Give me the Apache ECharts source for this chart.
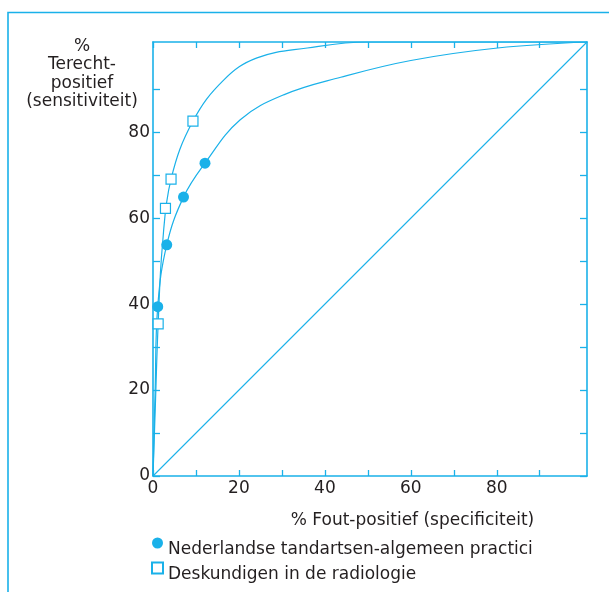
<!DOCTYPE html>
<html>
<head>
<meta charset="utf-8">
<script src="https://cdn.jsdelivr.net/npm/echarts@6/dist/echarts.min.js"></script>
<style>
  html, body { margin: 0; padding: 0; background: #fff; }
  #chart { width: 609px; height: 592px; }
</style>
</head>
<body>
<div id="chart"></div>
<script>
// ---- data ----
const xTickValues = [0, 10, 20, 30, 40, 50, 60, 70, 80, 90];
const xLabelValues = [0, 20, 40, 60, 80];
const yTickValues = [0, 10, 20, 30, 40, 50, 60, 70, 80, 90];
const yLabelValues = [0, 20, 40, 60, 80];

const seriesNames = ['Nederlandse tandartsen-algemeen practici', 'Deskundigen in de radiologie'];

// measured points
const dentistPoints = [[1.1, 39.4], [3.2, 53.8], [7.1, 64.9], [12.1, 72.8]];
const expertPoints = [[1.2, 35.4], [2.9, 62.3], [4.2, 69.1], [9.3, 82.6]];

// fitted ROC curves
const dentistCurve = [[0, 0], [0.5, 20], [1.1, 39.4], [3.2, 53.8], [7.1, 64.9],
  [12.1, 72.8], [20.3, 82.9], [30.4, 88.7], [43.7, 92.8], [60, 96.7], [80.2, 99.6], [101, 101]];
const expertCurve = [[0, 0], [0.6, 18], [1.2, 35.4], [2.2, 53.8], [4.2, 69.1],
  [9.3, 82.6], [16.5, 92.2], [24.2, 97.3], [35.9, 99.6], [50, 101], [101, 101]];
const chanceLine = [[0, 0], [101, 101]];

const axisMax = 101;

// ---- styles ----
const C = '#1ab1e9';
const TXT = '#231f20';
const FONT = "'DejaVu Sans', sans-serif";
const FS = 17;

const chart = echarts.init(document.getElementById('chart'), null, { renderer: 'canvas' });

function baseAxis(extra) {
  return Object.assign({
    type: 'value', min: 0, max: axisMax,
    axisLine: { show: true, onZero: false, lineStyle: { color: C, width: 1.6 } },
    splitLine: { show: false }
  }, extra);
}

const tickStyle = { color: C, width: 1.3 };

const option = {
  animation: false,
  backgroundColor: '#fff',
  textStyle: { fontFamily: FONT },
  grid: { left: 153, right: 22, top: 42, bottom: 116, containLabel: false },
  xAxis: [
    baseAxis({
      position: 'bottom',
      name: '% Fout-positief (specificiteit)',
      nameLocation: 'middle',
      nameGap: 36,
      nameTextStyle: { color: TXT, fontSize: FS, fontFamily: FONT, padding: [0, 0, 0, 85] },
      axisTick: { show: true, inside: true, length: 6, lineStyle: tickStyle, customValues: xTickValues },
      axisLabel: { show: true, color: TXT, fontSize: FS, fontFamily: FONT, margin: 4, customValues: xLabelValues }
    }),
    baseAxis({
      position: 'top',
      axisTick: { show: true, inside: true, length: 6, lineStyle: tickStyle, customValues: xTickValues },
      axisLabel: { show: false }
    })
  ],
  yAxis: [
    baseAxis({
      position: 'left',
      name: '%\nTerecht-\npositief\n(sensitiviteit)',
      nameLocation: 'end',
      nameGap: -69,
      nameTextStyle: { color: TXT, fontSize: FS, fontFamily: FONT, lineHeight: 18.5,
        align: 'center', verticalAlign: 'bottom', padding: [0, 142, 0, 0] },
      axisTick: { show: true, inside: true, length: 7, lineStyle: tickStyle, customValues: yTickValues },
      axisLabel: { show: true, color: TXT, fontSize: FS, fontFamily: FONT, margin: 3, customValues: yLabelValues }
    }),
    baseAxis({
      position: 'right',
      axisTick: { show: true, inside: true, length: 7, lineStyle: tickStyle, customValues: yTickValues },
      axisLabel: { show: false }
    })
  ],
  legend: {
    orient: 'vertical',
    left: 146,
    top: 523,
    itemGap: -5,
    itemWidth: 11,
    itemHeight: 11,
    data: seriesNames,
    formatter: function (name) { return '{t|' + name + '}'; },
    textStyle: {
      color: TXT, fontSize: FS, fontFamily: FONT,
      rich: { t: { color: TXT, fontSize: FS, fontFamily: FONT, lineHeight: 20, padding: [13, 0, 0, 0] } }
    }
  },
  graphic: [{
    type: 'polyline',
    shape: { points: [[8, 592], [8, 12.5], [609, 12.5]] },
    style: { stroke: C, lineWidth: 1.6, fill: null },
    silent: true
  }],
  series: [
    {
      type: 'line', name: 'chance', data: chanceLine, showSymbol: false, symbol: 'none',
      lineStyle: { color: C, width: 1.1 }, silent: true, z: 2
    },
    {
      type: 'line', name: 'dentistCurve', data: dentistCurve, symbol: 'none', smooth: 0.4,
      lineStyle: { color: C, width: 1.2 }, silent: true, z: 2
    },
    {
      type: 'line', name: 'expertCurve', data: expertCurve, symbol: 'none', smooth: 0.4,
      lineStyle: { color: C, width: 1.2 }, silent: true, z: 2
    },
    {
      type: 'scatter', name: seriesNames[0], data: dentistPoints, symbol: 'circle', symbolSize: 11,
      itemStyle: { color: C, opacity: 1 }, z: 5
    },
    {
      type: 'scatter', name: seriesNames[1], data: expertPoints, symbol: 'rect', symbolSize: 10,
      itemStyle: { color: '#fff', borderColor: C, borderWidth: 1.2, opacity: 1 }, z: 5
    }
  ]
};

chart.setOption(option);
</script>
</body>
</html>
